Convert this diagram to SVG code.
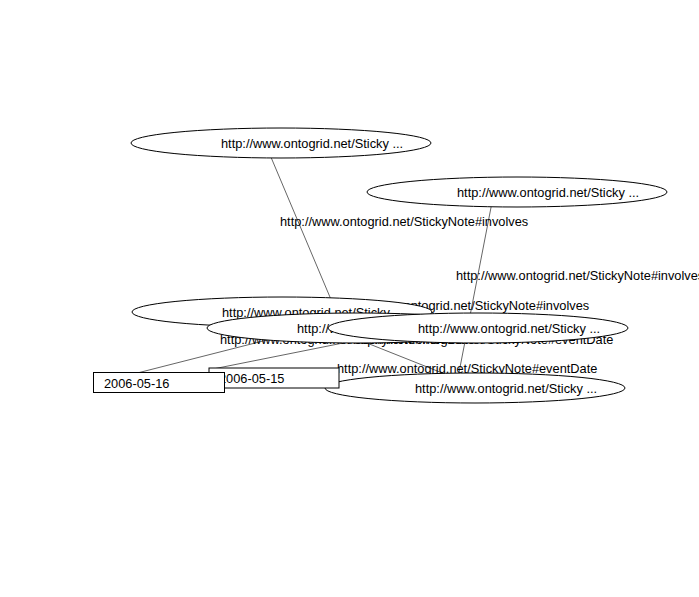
<svg xmlns="http://www.w3.org/2000/svg" width="699" height="597" viewBox="0 0 699 597">
<style>
text{font-family:"Liberation Sans",Arial,sans-serif;font-size:12.8px;fill:#000}
.node ellipse{fill:#fff;stroke:#000;stroke-width:1}
.node rect{fill:#fff;stroke:#000;stroke-width:1}
.edge line{stroke:#666;stroke-width:1}
</style>
<rect width="699" height="597" fill="#fff"/>
<g id="connectors">
<g class="edge"><line x1="265" y1="143" x2="343" y2="328"/></g>
<g class="edge"><line x1="494" y1="192" x2="456" y2="388"/></g>
<g class="edge"><line x1="98" y1="383" x2="318" y2="327"/></g>
<g class="edge"><line x1="212" y1="369.2" x2="418" y2="328"/></g>
<g class="edge"><line x1="289" y1="312" x2="480" y2="388"/></g>
<text x="280" y="226">http://www.ontogrid.net/StickyNote#involves</text>
<text x="456" y="280">http://www.ontogrid.net/StickyNote#involves</text>
<text x="341" y="310">http://www.ontogrid.net/StickyNote#involves</text>
<text x="220" y="344">http://www.ontogrid.net/StickyNote#fromDate</text>
<text x="353" y="344">http://www.ontogrid.net/StickyNote#eventDate</text>
<text x="337" y="373">http://www.ontogrid.net/StickyNote#eventDate</text>
</g>
<g id="nodeA" class="node"><ellipse cx="281" cy="143" rx="150" ry="15"/><text x="221" y="148">http://www.ontogrid.net/Sticky ...</text></g>
<g id="nodeB" class="node"><ellipse cx="517" cy="192" rx="150" ry="15"/><text x="457" y="197">http://www.ontogrid.net/Sticky ...</text></g>
<g id="nodeC" class="node"><ellipse cx="282" cy="312" rx="150" ry="15"/><text x="222" y="317">http://www.ontogrid.net/Sticky ...</text></g>
<g id="nodeD" class="node"><ellipse cx="357" cy="328" rx="150" ry="15"/><text x="297" y="333">http://www.ontogrid.net/Sticky ...</text></g>
<g id="nodeE" class="node"><ellipse cx="478" cy="328" rx="150" ry="15"/><text x="418" y="333">http://www.ontogrid.net/Sticky ...</text></g>
<g id="nodeF" class="node"><ellipse cx="475" cy="388" rx="150" ry="15"/><text x="415" y="393">http://www.ontogrid.net/Sticky ...</text></g>
<g id="nodeH" class="node"><rect x="209" y="368" width="130" height="20"/><text x="219" y="383">2006-05-15</text></g>
<g id="nodeG" class="node"><rect x="93.5" y="372.5" width="131" height="20"/><text x="104" y="388">2006-05-16</text></g>
</svg>
